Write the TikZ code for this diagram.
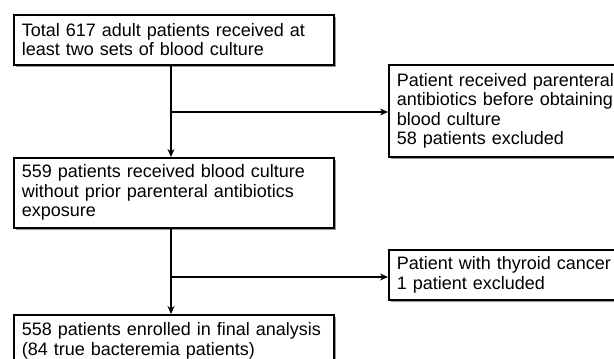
\documentclass[tikz,border=0pt]{standalone}
\usepackage{fontspec}
\setmainfont{Liberation Sans}
\usetikzlibrary{shadows,arrows.meta}
\begin{document}
\begin{tikzpicture}[x=1pt,y=-1pt,
  box/.style={draw=black, line width=1.6pt, fill=white, anchor=north west,
    align=left, inner xsep=8pt, inner ysep=0pt,
    font=\fontsize{18}{19.5}\selectfont,
    drop shadow={fill=black!40, opacity=1, shadow xshift=2.2pt, shadow yshift=-2.2pt}},
  conn/.style={line width=1.5pt},
  arr/.style={conn, -{Stealth[length=8pt,width=7pt]}}]
\useasboundingbox (0,0) rectangle (614,359);
\fill[white] (0,0) rectangle (614,359);
\node[box, text width=304pt, minimum width=318pt, minimum height=50pt] (b1) at (13,14)
  {Total 617 adult patients received at\\least two sets of blood culture};
\node[box, text width=304pt, minimum width=318pt, minimum height=70pt] (b2) at (13,157)
  {559 patients received blood culture\\without prior parenteral antibiotics\\exposure};
\node[box, text width=304pt, minimum width=318pt, minimum height=52pt] (b3) at (13,314)
  {558 patients enrolled in final analysis\\(84 true bacteremia patients)};
\node[box, text width=223pt, minimum width=237pt, minimum height=92pt] (bA) at (388,64)
  {Patient received parenteral\\antibiotics before obtaining\\blood culture\\58 patients excluded};
\node[box, text width=223pt, minimum width=237pt, minimum height=50pt] (bB) at (388,249)
  {Patient with thyroid cancer\\1 patient excluded};
\coordinate (t1) at (171,64);
\coordinate (j1) at (171,112);
\coordinate (t2) at (171,227);
\coordinate (j2) at (171,277);
\draw[arr] (t1) -- (t1 |- b2.north);
\draw[arr] (j1) -- (j1 -| bA.west);
\draw[arr] (t2) -- (t2 |- b3.north);
\draw[arr] (j2) -- (j2 -| bB.west);
\end{tikzpicture}
\end{document}
